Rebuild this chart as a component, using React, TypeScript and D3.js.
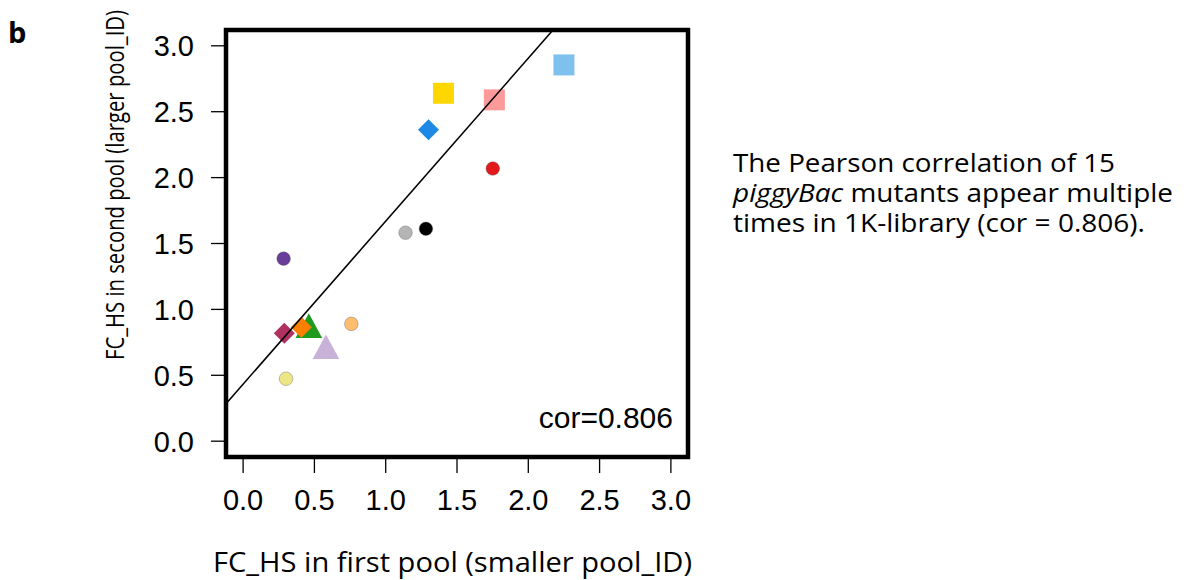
import React from "react";
import * as d3 from "d3";

// ---- data ----
const mutantIds = ["m1","m2","m3","m4","m5","m6","m7","m8","m9","m10","m11","m12","m13","m14"];
const fcFirstPool = [0.461, 2.25, 1.405, 1.762, 1.300, 1.751, 1.282, 1.139, 0.284, 0.289, 0.408, 0.581, 0.759, 0.301];
const fcSecondPool = [0.877, 2.855, 2.640, 2.590, 2.364, 2.069, 1.612, 1.582, 1.385, 0.819, 0.864, 0.716, 0.890, 0.474];
const markerShapes = ["triangle","square","square","square","diamond","circle","circle","circle","circle","diamond","diamond","triangle","circle","circle"];
const markerColors = ["#1E9B1E","#7EC0EE","#FFD700","#FB9A99","#1E88E5","#E31A1C","#000000","#B5B5B5","#6A3D9A","#B03060","#FF7F00","#C8B2D8","#FDBF6F","#EEE685"];
const xTicks = [0, 0.5, 1, 1.5, 2, 2.5, 3];
const yTicks = [0, 0.5, 1, 1.5, 2, 2.5, 3];
const fitIntercept = 0.433;
const fitSlope = 1.2365;
const corLabel = "cor=0.806";

export default function App() {
  const W = 1187, H = 580;
  const left = 226, right = 688, top = 30, bottom = 457;
  const x = d3.scaleLinear().domain([-0.12, 3.12]).range([left, right]);
  const y = d3.scaleLinear().domain([-0.12, 3.12]).range([bottom, top]);

  const shapePath = (shape: string) => {
    if (shape === "square") return "M-10.5,-10.5H10.5V10.5H-10.5Z";
    if (shape === "diamond") return "M0,-10.5L10.5,0L0,10.5L-10.5,0Z";
    if (shape === "triangle") return "M0,-12.4L13.3,12.3H-13.3Z";
    return "";
  };

  // regression line clipped to the box
  const lx0 = -0.12;
  const lx1 = Math.min(3.12, (3.12 - fitIntercept) / fitSlope);
  const line = d3.line<number>().x((v) => x(v)).y((v) => y(fitIntercept + fitSlope * v));

  const order = d3.range(mutantIds.length);
  const tickFont = "'Liberation Sans', Arial, Helvetica, sans-serif";
  const labelFont = "'Open Sans', 'Noto Sans', sans-serif";

  return (
    <svg width={W} height={H} style={{ position: "absolute", left: 0, top: 0, background: "#fff" }}>
      <rect x={0} y={0} width={W} height={H} fill="#fff" />
      <text x={8} y={43} fontFamily={labelFont} fontWeight="bold" fontSize={29}>b</text>

      {/* points */}
      {order.map((i) => {
        const cx = x(fcFirstPool[i]);
        const cy = y(fcSecondPool[i]);
        const s = markerShapes[i];
        if (s === "circle") {
          return (
            <circle key={mutantIds[i]} cx={cx} cy={cy} r={6.8} fill={markerColors[i]}
              stroke="#555" strokeOpacity={0.45} strokeWidth={0.8} />
          );
        }
        return (
          <path key={mutantIds[i]} d={shapePath(s)} transform={`translate(${cx},${cy})`} fill={markerColors[i]} />
        );
      })}

      {/* fit line */}
      <path d={line([lx0, lx1]) || ""} stroke="#000" strokeWidth={1.6} fill="none" />

      {/* box */}
      <rect x={left} y={top} width={right - left} height={bottom - top} fill="none" stroke="#000" strokeWidth={4.5} />

      {/* y axis */}
      {yTicks.map((t) => (
        <g key={"y" + t}>
          <line x1={211} x2={left} y1={y(t)} y2={y(t)} stroke="#000" strokeWidth={1.3} />
          <text x={194} y={y(t) + 10.5} textAnchor="end" fontFamily={tickFont} fontSize={29}>{t.toFixed(1)}</text>
        </g>
      ))}
      {/* x axis */}
      {xTicks.map((t) => (
        <g key={"x" + t}>
          <line x1={x(t)} x2={x(t)} y1={bottom} y2={473} stroke="#000" strokeWidth={1.3} />
          <text x={x(t)} y={510} textAnchor="middle" fontFamily={tickFont} fontSize={29}>{t.toFixed(1)}</text>
        </g>
      ))}

      <text x={673} y={428} textAnchor="end" fontFamily={tickFont} fontSize={30}>{corLabel}</text>

      {/* axis titles */}
      <text x={213} y={572} fontFamily={labelFont} fontSize={27} textLength={479} lengthAdjust="spacingAndGlyphs">
        FC_HS in first pool (smaller pool_ID)
      </text>
      <text transform="translate(124,360) rotate(-90)" x={0} y={0} fontFamily={labelFont} fontSize={25}
        textLength={350} lengthAdjust="spacingAndGlyphs">
        FC_HS in second pool (larger pool_ID)
      </text>

      {/* caption */}
      <text x={733} y={172} fontFamily={labelFont} fontSize={26} textLength={382} lengthAdjust="spacingAndGlyphs">
        The Pearson correlation of 15
      </text>
      <text x={733} y={202} fontFamily={labelFont} fontSize={26} textLength={440} lengthAdjust="spacingAndGlyphs">
        <tspan fontStyle="italic">piggyBac</tspan> mutants appear multiple
      </text>
      <text x={733} y={232} fontFamily={labelFont} fontSize={26} textLength={412} lengthAdjust="spacingAndGlyphs">
        times in 1K-library (cor = 0.806).
      </text>
    </svg>
  );
}
